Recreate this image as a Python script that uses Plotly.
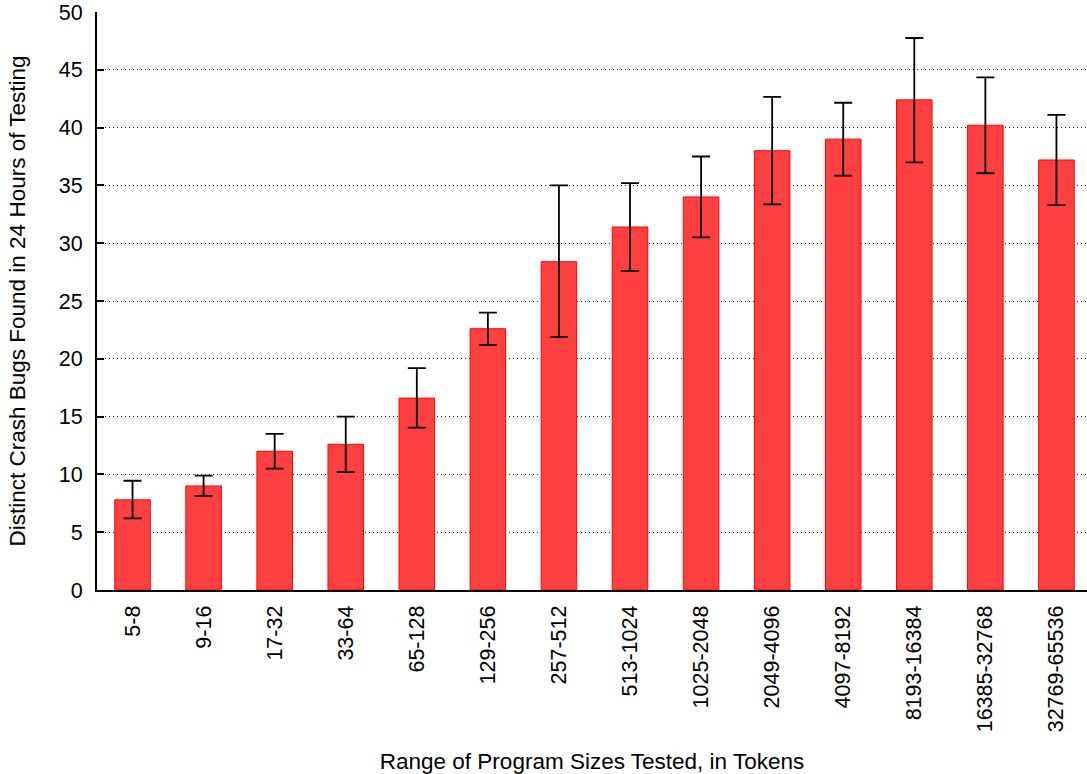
import plotly.graph_objects as go

# Token-size buckets and mean distinct crash bugs per 24h run
size_ranges = ["5-8", "9-16", "17-32", "33-64", "65-128", "129-256", "257-512",
               "513-1024", "1025-2048", "2049-4096", "4097-8192", "8193-16384",
               "16385-32768", "32769-65536"]
mean_bugs = [7.8, 9.0, 12.0, 12.6, 16.6, 22.6, 28.4, 31.4, 34.0, 38.0, 39.0, 42.4, 40.2, 37.2]
upper_bound = [9.45, 9.9, 13.5, 15.0, 19.2, 24.0, 35.0, 35.2, 37.5, 42.65, 42.15, 47.75, 44.35, 41.1]
lower_bound = [6.2, 8.15, 10.5, 10.2, 14.05, 21.2, 21.9, 27.6, 30.5, 33.35, 35.85, 37.0, 36.05, 33.3]

y_ticks = [0, 5, 10, 15, 20, 25, 30, 35, 40, 45, 50]

err_plus = [u - m for u, m in zip(upper_bound, mean_bugs)]
err_minus = [m - l for m, l in zip(mean_bugs, lower_bound)]

font_family = "Liberation Sans, Arial, sans-serif"

fig = go.Figure(
    go.Bar(
        x=list(range(len(size_ranges))),
        y=mean_bugs,
        width=0.5,
        marker=dict(color="#FF4040", line=dict(color="#FF0000", width=1)),
        error_y=dict(
            type="data",
            symmetric=False,
            array=err_plus,
            arrayminus=err_minus,
            color="black",
            thickness=1.8,
            width=9,
        ),
    )
)

fig.update_layout(
    width=1087,
    height=774,
    margin=dict(l=97, r=0, t=12, b=184),
    paper_bgcolor="white",
    plot_bgcolor="white",
    showlegend=False,
    font=dict(family=font_family, size=21.5, color="black"),
    bargap=0.5,
)

fig.update_xaxes(
    range=[-0.5, 13.43],
    tickmode="array",
    tickvals=list(range(len(size_ranges))),
    ticktext=size_ranges,
    tickangle=-90,
    ticks="",
    ticklabelstandoff=5,
    showgrid=False,
    showline=True,
    linecolor="black",
    linewidth=2,
    zeroline=False,
    title=dict(text="Range of Program Sizes Tested, in Tokens", standoff=22,
               font=dict(size=22.5)),
)

fig.update_yaxes(
    range=[0, 50],
    tickmode="array",
    tickvals=y_ticks,
    ticks="inside",
    ticklen=7,
    tickwidth=1.5,
    tickcolor="black",
    ticklabelstandoff=8,
    showgrid=True,
    gridcolor="#222222",
    gridwidth=1,
    griddash="1px,3px",
    showline=True,
    linecolor="black",
    linewidth=2,
    zeroline=False,
    title=dict(text="Distinct Crash Bugs Found in 24 Hours of Testing", standoff=27,
               font=dict(size=22.5)),
)

fig.write_html("out.html")
